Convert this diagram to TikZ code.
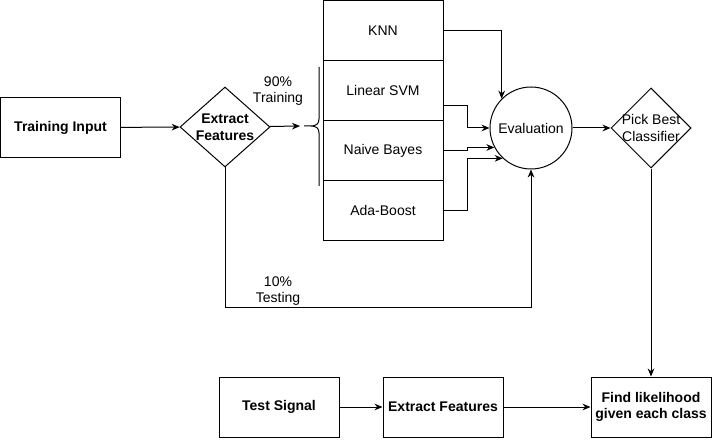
\documentclass[tikz,border=0pt]{standalone}
\usepackage{fontspec}
\setmainfont{Liberation Sans}
\usepackage{xcolor}
\usepackage{tikz}
\usetikzlibrary{arrows.meta,positioning,shapes.geometric}
\definecolor{ink}{HTML}{000000}
\newcommand{\figfont}{\fontsize{10.5}{12.5}\selectfont}
\tikzset{
    every picture/.style={line cap=butt,line join=miter},
    stepbox/.style={draw=ink,line width=0.75pt,minimum width=90pt,minimum height=45pt,
      inner sep=2pt,align=center,font=\figfont\bfseries},
    clfbox/.style={draw=ink,line width=0.75pt,minimum width=90pt,minimum height=45pt,
      inner sep=0pt,outer sep=0pt,font=\figfont},
    decision/.style={draw=ink,diamond,line width=0.75pt,inner sep=0pt},
    evalnode/.style={draw=ink,circle,line width=0.75pt,minimum size=61.5pt,
      inner sep=0pt,font=\figfont},
    boldtext/.style={align=center,inner sep=0pt,font=\figfont\bfseries},
    plaintext/.style={align=center,inner sep=0pt,font=\figfont},
    flowarrow/.style={-{Stealth[length=6pt,width=5pt]},draw=ink,line width=0.75pt}
}

\begin{document}
\begin{tikzpicture}[x=0.75pt,y=-0.75pt]
  \useasboundingbox (0,0) rectangle (712,441);
  % training branch
  \node[stepbox] (train) at (60.5,127.5) {Training Input};
  \node[decision,minimum width=67.5pt,minimum height=60pt,
        label={[boldtext]center:Extract\\Features}] (ext) at (225,127) {};
  \coordinate (bt) at (304,126);
  \draw[draw=ink,line width=0.75pt] (319,67) -- (319,119)
    .. controls (319,124) and (316,126) .. (311,126) -- (bt)
    (311,126) .. controls (316,126) and (319,128) .. (319,133) -- (319,186);
  \node[plaintext] (trainpct) at (278,91) {90\%\\Training};
  % classifiers
  \node[clfbox] (knn) at (383,30.5) {KNN};
  \node[clfbox,below=0pt of knn] (svm) {Linear SVM};
  \node[clfbox,below=0pt of svm] (nb) {Naive Bayes};
  \node[clfbox,below=0pt of nb] (ada) {Ada-Boost};
  \node[evalnode] (ev) at (531,128) {Evaluation};
  \node[decision,minimum width=60pt,minimum height=60pt,
        label={[plaintext]center:Pick Best\\Classifier}] (pick) at (651,128) {};
  \node[plaintext] (testpct) at (278,291) {10\%\\Testing};
  % test branch
  \node[stepbox] (test) at (279,407) {Test Signal};
  \node[stepbox] (ext2) at (443,407) {Extract Features};
  \node[stepbox] (find) at (651,407) {Find likelihood\\given each class};

  \draw[flowarrow] (train) -- (ext);
  \draw[flowarrow,shorten >=3pt] (ext) -- (bt);
  \draw[flowarrow] (knn.east) -| (ev.north west);
  \draw[flowarrow] ([yshift=-11.25pt]svm.east) -- ++(24,0) |- (ev.west);
  \draw[flowarrow] (nb.east) -- ++(24,0) |- (ev.208);
  \draw[flowarrow] (ada.east) -- ++(24,0) |- (ev.227);
  \draw[flowarrow] (ext.south) -- ++(0,140) -| (ev.south);
  \draw[flowarrow] (ev) -- (pick);
  \draw[flowarrow] (pick) -- (find);
  \draw[flowarrow] (test) -- (ext2);
  \draw[flowarrow] (ext2) -- (find);
\end{tikzpicture}
\end{document}
